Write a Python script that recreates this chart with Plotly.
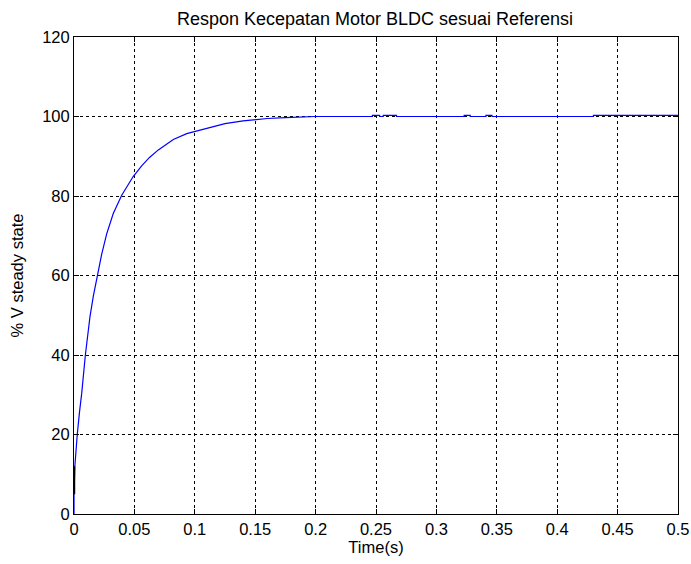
import plotly.graph_objects as go

# Response data
time_s = [0.0, 0.0, 0.0007, 0.0017, 0.0027, 0.0045, 0.0064, 0.0094, 0.0132, 0.0160,
          0.0193, 0.0229, 0.027, 0.0325, 0.0395, 0.049, 0.056, 0.0625, 0.0698, 0.076, 0.0822,
          0.0933, 0.104, 0.1126, 0.125, 0.14, 0.15, 0.16, 0.175, 0.19, 0.2,
          0.247, 0.247, 0.253, 0.253, 0.256, 0.256, 0.267, 0.267,
          0.323, 0.323, 0.328, 0.328, 0.341, 0.341, 0.346, 0.346,
          0.43, 0.43, 0.5]
v_pct = [0.0, 5.0, 12.0, 17.0, 20.0, 25.5, 30.4, 40.0, 49.6, 54.8,
         60.1, 65.3, 70.4, 75.6, 80.2, 84.9, 87.6, 89.7, 91.6, 93.0, 94.2,
         95.7, 96.6, 97.3, 98.2, 98.9, 99.2, 99.5, 99.7, 99.9, 100.0,
         100.0, 100.3, 100.3, 100.0, 100.0, 100.3, 100.3, 100.0,
         100.0, 100.3, 100.3, 100.0, 100.0, 100.3, 100.3, 100.0,
         100.0, 100.3, 100.3]

# Small black segment at t=0
seg_t = [0.0004, 0.0004]
seg_v = [5.0, 12.0]

x_ticks = [0, 0.05, 0.1, 0.15, 0.2, 0.25, 0.3, 0.35, 0.4, 0.45, 0.5]
x_labels = ["0", "0.05", "0.1", "0.15", "0.2", "0.25", "0.3", "0.35", "0.4", "0.45", "0.5"]
y_ticks = [0, 20, 40, 60, 80, 100, 120]

fig = go.Figure()
fig.add_trace(go.Scatter(x=time_s, y=v_pct, mode="lines",
                         line=dict(color="rgb(0,0,255)", width=1.2), showlegend=False))
fig.add_trace(go.Scatter(x=seg_t, y=seg_v, mode="lines",
                         line=dict(color="black", width=1.5), showlegend=False))

font = "Liberation Sans, Arial, sans-serif"
axis_common = dict(
    showline=True, linecolor="black", linewidth=1, mirror="ticks",
    ticks="inside", ticklen=5, tickcolor="black",
    showgrid=True, gridcolor="black", gridwidth=1, griddash="3px,3px",
    zeroline=False, tickfont=dict(family=font, size=16.5, color="black"),
)

fig.update_layout(
    width=691, height=564,
    margin=dict(l=74, r=13, t=37, b=50),
    paper_bgcolor="white", plot_bgcolor="white",
    title=dict(text="Respon Kecepatan Motor BLDC sesuai Referensi",
               x=375 / 691, xanchor="center",
               y=1 - 19 / 564, yanchor="middle",
               font=dict(family=font, size=18, color="black")),
    xaxis=dict(range=[0, 0.5], tickvals=x_ticks, ticktext=x_labels,
               title=dict(text="Time(s)", font=dict(family=font, size=16.5, color="black"), standoff=3),
               automargin=False, **axis_common),
    yaxis=dict(range=[0, 120], tickvals=y_ticks,
               title=dict(text="% V steady state", font=dict(family=font, size=16.5, color="black"), standoff=14),
               automargin=False, **axis_common),
)

fig.write_html("out.html")
